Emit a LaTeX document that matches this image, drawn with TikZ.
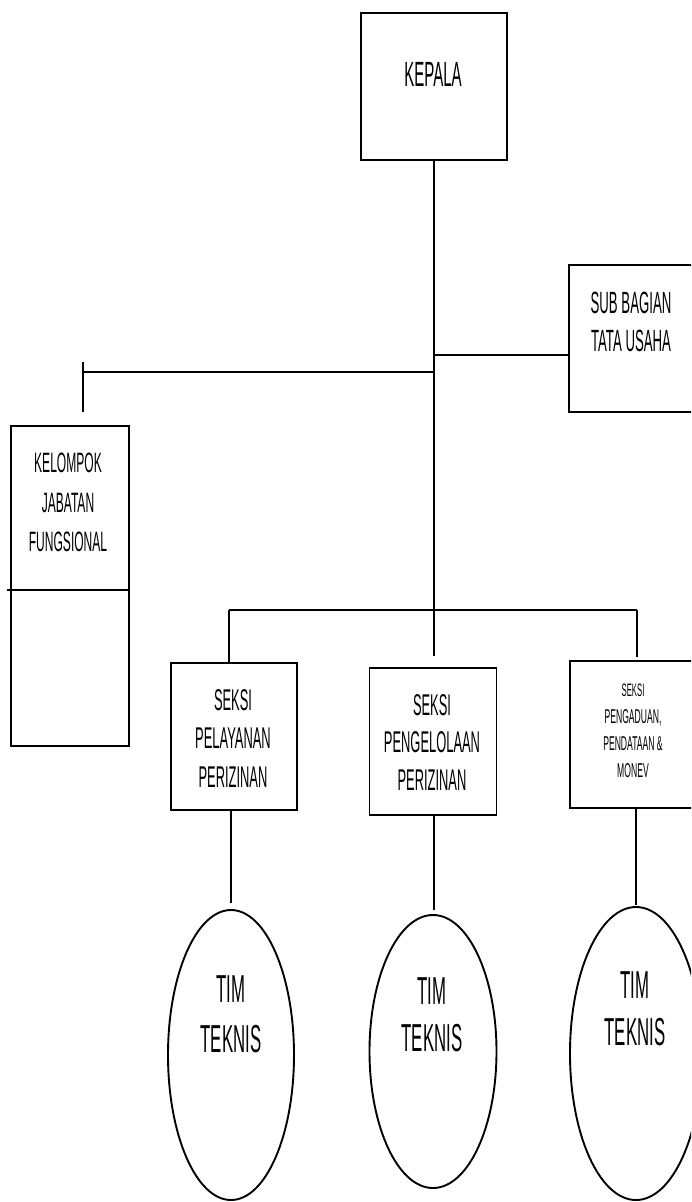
\documentclass[tikz,border=0pt]{standalone}
\usepackage{fontspec}
\setmainfont{Liberation Sans}[FakeStretch=0.43]
\usetikzlibrary{shapes.geometric,calc}
\tikzset{
  box/.style={draw, rectangle, line width=1.9pt, inner sep=0pt},
  oval/.style={draw, ellipse, line width=1.9pt, inner sep=0pt},
  lbl/.style={align=center, inner sep=0pt, text=black},
  conn/.style={line width=1.9pt},
}
\begin{document}
\begin{tikzpicture}[x=1pt,y=-1pt]
\useasboundingbox (0,0) rectangle (691,1202);
\clip (0,0) rectangle (691,1202);
\fill[white] (0,0) rectangle (691,1202);
% boxes
\node[box, minimum width=146pt, minimum height=147pt] (kepala) at (434,86.5) {};
\node[box, minimum width=131pt, minimum height=147pt] (sub) at (634.5,338.5) {};
\node[box, minimum width=118pt, minimum height=320pt] (kel) at (70,586) {};
\node[box, minimum width=126pt, minimum height=147pt] (s1) at (234,736.5) {};
\node[box, minimum width=127pt, minimum height=147pt] (s2) at (433,741.5) {};
\node[box, minimum width=132pt, minimum height=147pt] (s3) at (636,734.5) {};
% ellipses
\node[oval, minimum width=126pt, minimum height=290pt] (t1) at (231,1055) {};
\node[oval, minimum width=127pt, minimum height=273pt] (t2) at (433,1051.5) {};
\node[oval, minimum width=132pt, minimum height=293pt] (t3) at (636,1053.5) {};
% labels
\node[lbl, font=\fontsize{35}{40}\selectfont] (lkepala) at (433,74.5) {KEPALA};
\node[lbl, font=\fontsize{30.7}{38.5}\selectfont] (lsub) at (631,321.75) {SUB BAGIAN\\TATA USAHA};
\node[lbl, font=\fontsize{28}{39.5}\selectfont] (lkel) at (68,502.5) {KELOMPOK\\JABATAN\\FUNGSIONAL};
\node[lbl, font=\fontsize{30}{38.5}\selectfont] (ls1) at (233,738.5) {SEKSI\\PELAYANAN\\PERIZINAN};
\node[lbl, font=\fontsize{30}{37.5}\selectfont] (ls2) at (432,742.5) {SEKSI\\PENGELOLAAN\\PERIZINAN};
\node[lbl, font=\fontsize{20}{27.2}\selectfont] (ls3) at (633,730.75) {{\fontsize{18}{27.2}\selectfont SEKSI}\\PENGADUAN,\\PENDATAAN \&\\MONEV};
\node[lbl, font=\fontsize{39}{50}\selectfont] (lt1) at (231,1014) {TIM\\TEKNIS};
\node[lbl, font=\fontsize{39}{47}\selectfont] (lt2) at (432,1015) {TIM\\TEKNIS};
\node[lbl, font=\fontsize{39}{47}\selectfont] (lt3) at (635,1008.5) {TIM\\TEKNIS};
% junction coordinates
\coordinate (js) at (434,355);
\coordinate (jl) at (434,372);
\coordinate (kl) at (83,372);
\coordinate (kt1) at (83,362);
\coordinate (kt2) at (83,412);
\coordinate (barL) at (229,610);
\coordinate (barR) at (637,610);
\coordinate (barM) at (434,610);
% connectors
\draw[conn] (kepala.south) -- (barM);
\draw[conn] (js) -- (js -| sub.west);
\draw[conn] (jl) -- (kl);
\draw[conn] (kt1) -- (kt2);
\draw[conn] ([xshift=-3pt]kel.west |- 0,590) -- (kel.east |- 0,590);
\draw[conn] (barL) -- (barR);
\draw[conn] (barL) -- (barL |- s1.north);
\draw[conn, shorten >=3pt] (barR) -- (barR |- s3.north);
\draw[conn, shorten >=11pt] (barM) -- (barM |- s2.north);
\draw[conn, shorten >=6pt] (t1.north |- s1.south) -- (t1.north);
\draw[conn, shorten >=4pt] (barM |- s2.south) -- (barM |- t2.north);
\draw[conn, shorten >=1pt] (t3.north |- s3.south) -- (t3.north);
\end{tikzpicture}
\end{document}
